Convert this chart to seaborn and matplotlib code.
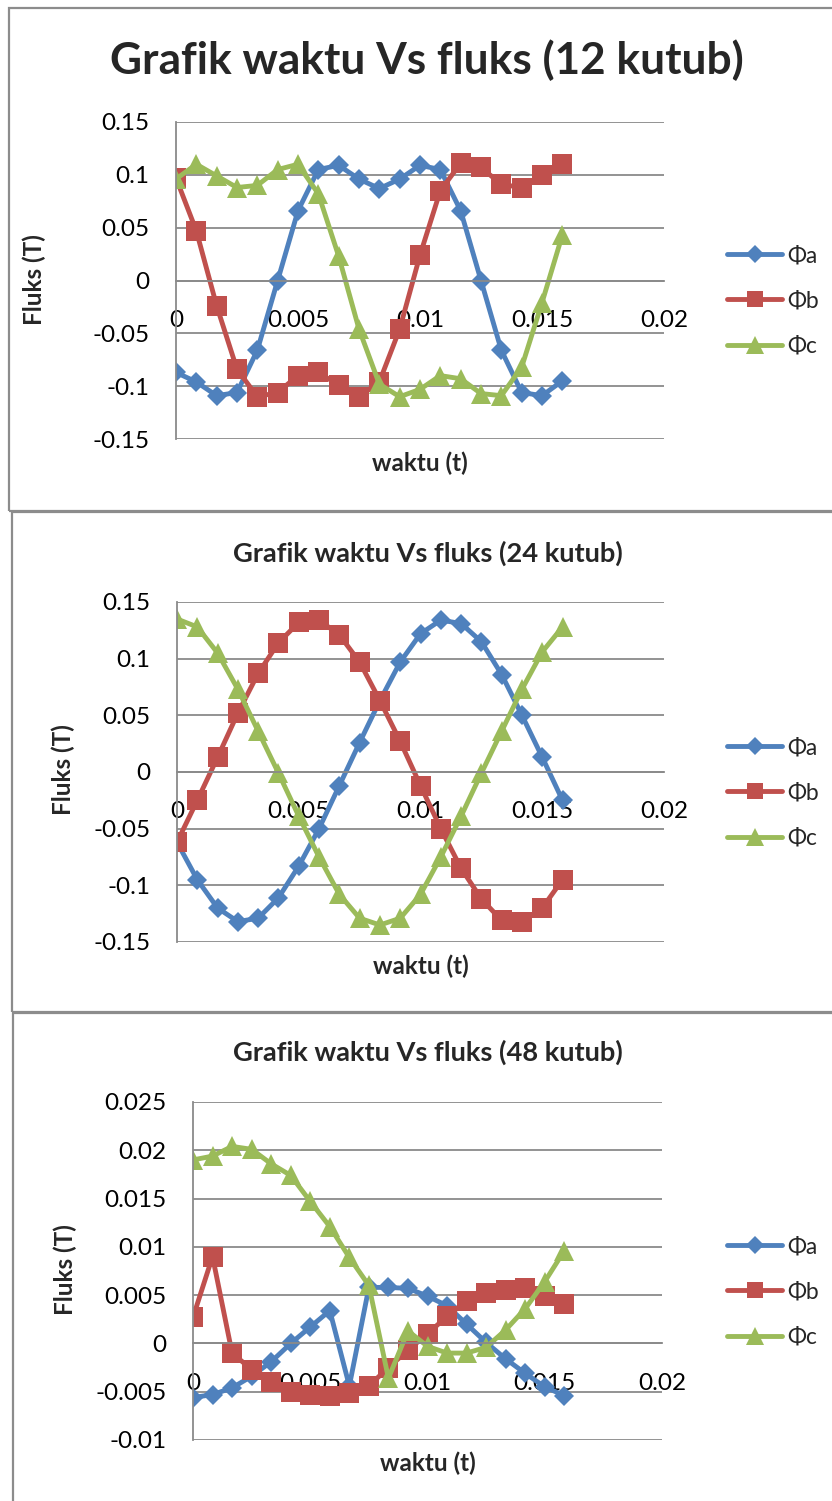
import matplotlib
matplotlib.use("Agg")
import matplotlib.pyplot as plt
import seaborn as sns
from matplotlib.patches import Rectangle

# time samples (s)
waktu = [0.0, 0.000833, 0.001667, 0.0025, 0.003333, 0.004167, 0.005, 0.005833,
         0.006667, 0.0075, 0.008333, 0.009167, 0.01, 0.010833, 0.011667, 0.0125,
         0.013333, 0.014167, 0.015, 0.015833]

# 12-pole flux (T)
phi_a_12 = [-0.087, -0.096, -0.109, -0.106, -0.066, 0.000, 0.066, 0.105, 0.109, 0.096,
            0.087, 0.096, 0.109, 0.105, 0.066, 0.000, -0.066, -0.106, -0.109, -0.095]
phi_b_12 = [0.097, 0.047, -0.024, -0.084, -0.110, -0.106, -0.090, -0.087, -0.099, -0.110,
            -0.096, -0.046, 0.024, 0.085, 0.111, 0.107, 0.091, 0.088, 0.100, 0.110]
phi_c_12 = [0.096, 0.110, 0.099, 0.088, 0.090, 0.105, 0.110, 0.082, 0.023, -0.046,
            -0.098, -0.110, -0.103, -0.090, -0.093, -0.107, -0.109, -0.082, -0.021, 0.043]

# 24-pole flux (T)
phi_a_24 = [-0.062, -0.095, -0.120, -0.132, -0.129, -0.111, -0.083, -0.050, -0.012, 0.026,
            0.063, 0.097, 0.122, 0.134, 0.131, 0.115, 0.086, 0.050, 0.013, -0.025]
phi_b_24 = [-0.062, -0.025, 0.013, 0.052, 0.087, 0.114, 0.132, 0.134, 0.121, 0.097,
            0.063, 0.027, -0.012, -0.050, -0.085, -0.112, -0.131, -0.132, -0.120, -0.095]
phi_c_24 = [0.135, 0.128, 0.105, 0.073, 0.036, -0.001, -0.039, -0.075, -0.108, -0.129,
            -0.135, -0.129, -0.108, -0.075, -0.039, -0.001, 0.036, 0.073, 0.106, 0.128]

# 48-pole flux (T)
phi_a_48 = [-0.0056, -0.0053, -0.0046, -0.0034, -0.0019, 0.0000, 0.0017, 0.0034, -0.0044, 0.0058,
            0.0058, 0.0057, 0.0049, 0.0039, 0.0020, 0.0001, -0.0016, -0.0031, -0.0045, -0.0054]
phi_b_48 = [0.0027, 0.0090, -0.0010, -0.0027, -0.0040, -0.0050, -0.0053, -0.0054, -0.0051, -0.0044,
            -0.0025, -0.0007, 0.0010, 0.0028, 0.0044, 0.0052, 0.0055, 0.0057, 0.0049, 0.0041]
phi_c_48 = [0.0190, 0.0194, 0.0204, 0.0201, 0.0186, 0.0174, 0.0147, 0.0121, 0.0089, 0.0060,
            -0.0036, 0.0013, -0.0003, -0.0010, -0.0010, -0.0004, 0.0014, 0.0036, 0.0064, 0.0096]

series_names = ["Φa", "Φb", "Φc"]
series_colors = ["#4F81BD", "#C0504D", "#9BBB59"]
series_markers = ["D", "s", "^"]
marker_sizes = [10.5, 14, 14.5]

x_ticks = [0, 0.005, 0.01, 0.015, 0.02]
y_ticks_12 = [-0.15, -0.1, -0.05, 0, 0.05, 0.1, 0.15]
y_ticks_24 = [-0.15, -0.1, -0.05, 0, 0.05, 0.1, 0.15]
y_ticks_48 = [-0.01, -0.005, 0, 0.005, 0.01, 0.015, 0.02, 0.025]

titles = ["Grafik waktu Vs fluks (12 kutub)",
          "Grafik waktu Vs fluks (24 kutub)",
          "Grafik waktu Vs fluks (48 kutub)"]
x_label = "waktu (t)"
y_label = "Fluks (T)"

sns.set_theme(style="white")
plt.rcParams["font.family"] = ["Lato", "DejaVu Sans"]

W, H = 832, 1501
fig = plt.figure(figsize=(W / 100, H / 100), dpi=100)
fig.patch.set_facecolor("white")

GRID = "#8a8a8a"


def fx(px):
    return px / W


def fy(py):
    return 1 - py / H


def panel(x0, y0, y1):
    fig.add_artist(Rectangle((fx(x0), fy(y1)), fx(W + 20 - x0), (y1 - y0) / H,
                             transform=fig.transFigure, fill=False,
                             edgecolor="#8c8c8c", linewidth=1.6, zorder=0))


def chart(box, data, yticks, title, title_pos, title_size, ylabel_pos, xlabel_pos,
          legend_pos, tick_size=17.5):
    x0, y0, x1, y1 = box
    ax = fig.add_axes([fx(x0), fy(y1), fx(x1 - x0), (y1 - y0) / H])
    ax.set_facecolor("none")
    for vals, name, col, mk, ms in zip(data, series_names, series_colors,
                                         series_markers, marker_sizes):
        sns.lineplot(x=waktu, y=vals, ax=ax, color=col, marker=mk, markersize=ms,
                     markeredgewidth=0, linewidth=3.5, label=name)
    ax.set_xlim(0, 0.02)
    ax.set_ylim(yticks[0], yticks[-1])
    ax.set_xticks(x_ticks)
    ax.set_xticklabels([f"{v:g}" for v in x_ticks])
    ax.set_yticks(yticks)
    ax.set_yticklabels([f"{v:g}" for v in yticks])
    ax.yaxis.grid(True, color=GRID, linewidth=1.3)
    ax.xaxis.grid(False)
    ax.set_axisbelow(True)
    for s in ["top", "right"]:
        ax.spines[s].set_visible(False)
    ax.spines["left"].set_color(GRID)
    ax.spines["left"].set_linewidth(1.3)
    ax.spines["bottom"].set_position(("data", 0))
    ax.spines["bottom"].set_color(GRID)
    ax.spines["bottom"].set_linewidth(1.3)
    ax.tick_params(axis="x", length=0, pad=21, labelsize=tick_size, labelcolor="black")
    ax.tick_params(axis="y", length=0, pad=19, labelsize=tick_size, labelcolor="black")
    for lab in ax.get_xticklabels():
        lab.set_zorder(5)
    ax.set_xlabel("")
    ax.set_ylabel("")
    fig.text(fx(title_pos[0]), fy(title_pos[1]), title, ha="center", va="center",
             fontsize=title_size, fontweight="bold")
    fig.text(fx(ylabel_pos[0]), fy(ylabel_pos[1]), y_label, ha="center", va="center",
             rotation=90, fontsize=17.5, fontweight="bold")
    fig.text(fx(xlabel_pos[0]), fy(xlabel_pos[1]), x_label, ha="center", va="center",
             fontsize=17.5, fontweight="bold")
    ax.legend(loc="center left", bbox_to_anchor=(fx(legend_pos[0]), fy(legend_pos[1])),
              bbox_transform=fig.transFigure, frameon=False, fontsize=16.5,
              handlelength=2.4, handletextpad=0.25, labelspacing=1.05,
              borderpad=0, borderaxespad=0, markerscale=0.85)
    return ax


panel(9, 8, 511)
panel(12, 512, 1012)
panel(13, 1013, 1530)

chart((176, 122, 664, 439), [phi_a_12, phi_b_12, phi_c_12], y_ticks_12, titles[0],
      (427, 60), 31.8, (34, 280), (420, 463), (727, 301))
chart((177, 602, 664, 942), [phi_a_24, phi_b_24, phi_c_24], y_ticks_24, titles[1],
      (428, 553), 19.6, (63, 770), (421, 966), (727, 793))
chart((193, 1102, 662, 1440), [phi_a_48, phi_b_48, phi_c_48], y_ticks_48, titles[2],
      (428, 1052), 19.6, (65, 1270), (428, 1463), (727, 1292))

fig.savefig("out.png", dpi=100, facecolor="white")
